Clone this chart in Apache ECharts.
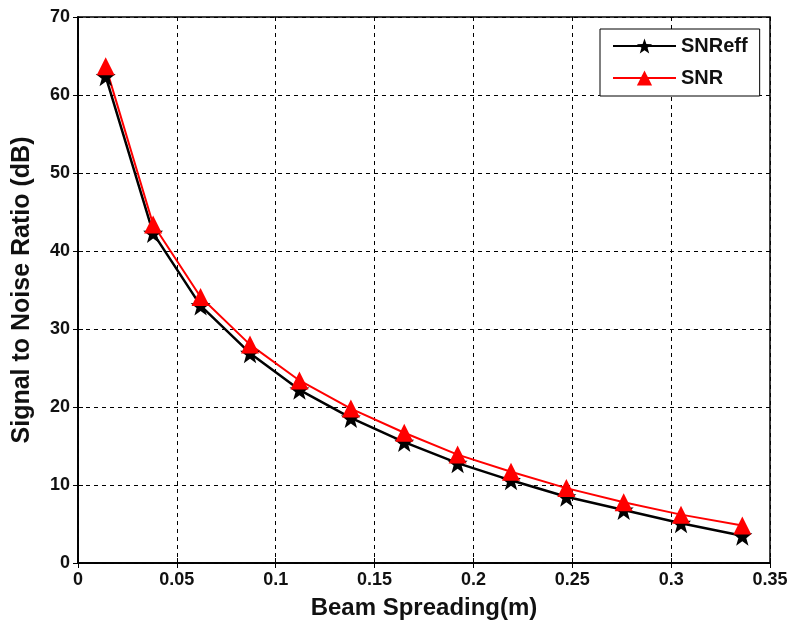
<!DOCTYPE html>
<html><head><meta charset="utf-8">
<script src="https://cdn.jsdelivr.net/npm/echarts@6/dist/echarts.min.js"></script>
<style>html,body{margin:0;padding:0;background:#fff}#c{width:793px;height:627px}</style>
</head><body><div id="c"></div>
<script>
const beamSpreading = [0.014, 0.038, 0.062, 0.087, 0.112, 0.138, 0.165, 0.192, 0.219, 0.247, 0.276, 0.305, 0.336];
const snrEff = [62.4, 42.3, 33.0, 26.9, 22.2, 18.6, 15.5, 12.8, 10.6, 8.5, 6.8, 5.1, 3.5];
const snr = [63.7, 43.4, 34.1, 28.0, 23.4, 19.8, 16.7, 13.9, 11.7, 9.6, 7.8, 6.2, 4.8];
const xTicks = [0, 0.05, 0.1, 0.15, 0.2, 0.25, 0.3, 0.35];
const yTicks = [0, 10, 20, 30, 40, 50, 60, 70];

const starPath = 'path://M0,-10 L2.35,-3.24 L9.51,-3.09 L3.8,1.24 L5.88,8.09 L0,4 L-5.88,8.09 L-3.8,1.24 L-9.51,-3.09 L-2.35,-3.24 Z';
const font = 'Liberation Sans, Arial, sans-serif';
const chart = echarts.init(document.getElementById('c'), null, {renderer: 'canvas'});
const axisCommon = {
  axisLine: {show: true, lineStyle: {color: '#000', width: 1.5}},
  axisTick: {show: true, inside: true, length: 5, lineStyle: {color: '#000'}},
  splitLine: {show: true, lineStyle: {color: '#000', type: [4, 4], width: 1}}
};
chart.setOption({
  backgroundColor: '#fff',
  animation: false,
  grid: {left: 78, right: 23, top: 17, bottom: 64, show: true, borderColor: '#000', borderWidth: 1.5},
  xAxis: [{
    type: 'value', min: 0, max: 0.35, interval: 0.05,
    name: 'Beam Spreading(m)', nameLocation: 'middle', nameGap: 33,
    nameTextStyle: {fontFamily: font, fontWeight: 'bold', fontSize: 24, color: '#111'},
    axisLabel: {fontFamily: font, fontWeight: 'bold', fontSize: 18, color: '#111', margin: 8,
      formatter: v => { const t = xTicks.find(x => Math.abs(x - v) < 1e-9); return t === undefined ? '' : String(t); }},
    ...axisCommon
  }, {
    type: 'value', min: 0, max: 0.35, interval: 0.05, position: 'top',
    axisLabel: {show: false}, splitLine: {show: false},
    axisLine: {show: true, lineStyle: {color: '#000', width: 1.5}},
    axisTick: {show: true, inside: true, length: 5, lineStyle: {color: '#000'}}
  }],
  yAxis: [{
    type: 'value', min: 0, max: 70, interval: 10,
    name: 'Signal to Noise Ratio (dB)', nameLocation: 'middle', nameGap: 43,
    nameTextStyle: {fontFamily: font, fontWeight: 'bold', fontSize: 25, color: '#111'},
    axisLabel: {fontFamily: font, fontWeight: 'bold', fontSize: 18, color: '#111', margin: 8,
      formatter: v => { const t = yTicks.find(x => Math.abs(x - v) < 1e-9); return t === undefined ? '' : String(t); }},
    ...axisCommon
  }, {
    type: 'value', min: 0, max: 70, interval: 10, position: 'right',
    axisLabel: {show: false}, splitLine: {show: false},
    axisLine: {show: true, lineStyle: {color: '#000', width: 1.5}},
    axisTick: {show: true, inside: true, length: 5, lineStyle: {color: '#000'}}
  }],
  legend: {
    left: 600, top: 29, orient: 'vertical',
    padding: [7, 12, 8, 12], itemGap: 12, itemWidth: 63, itemHeight: 19,
    backgroundColor: '#fff', borderColor: '#000', borderWidth: 1,
    textStyle: {fontFamily: font, fontWeight: 'bold', fontSize: 20, color: '#111'},
    data: ['SNReff', 'SNR']
  },
  series: [{
    name: 'SNReff', type: 'line', xAxisIndex: 0, yAxisIndex: 0,
    data: beamSpreading.map((x, i) => [x, snrEff[i]]),
    symbol: starPath, symbolSize: 20,
    lineStyle: {color: '#000', width: 2.5}, itemStyle: {color: '#000'}, color: '#000'
  }, {
    name: 'SNR', type: 'line', xAxisIndex: 0, yAxisIndex: 0,
    data: beamSpreading.map((x, i) => [x, snr[i]]),
    symbol: 'triangle', symbolSize: 18,
    lineStyle: {color: '#f00', width: 2}, itemStyle: {color: '#f00'}, color: '#f00'
  }]
});
</script></body></html>
